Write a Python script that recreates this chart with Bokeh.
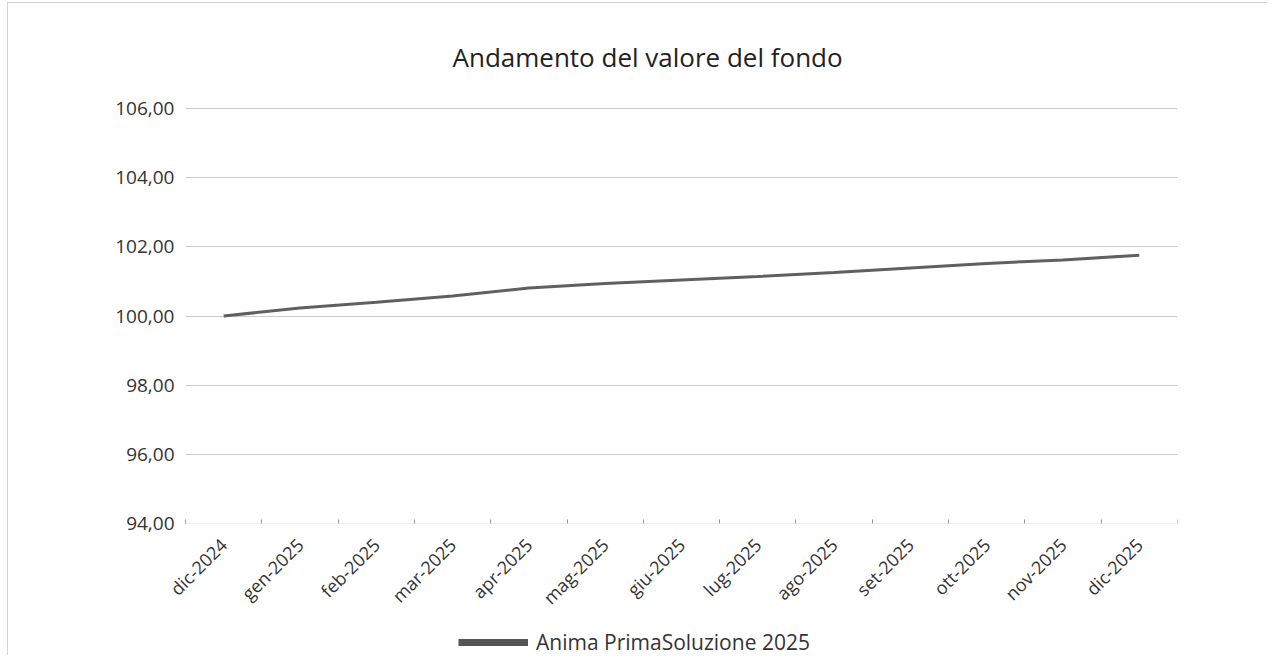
from bokeh.plotting import figure
from bokeh.models import FixedTicker, Legend, LegendItem, ColumnDataSource, Title, Range1d
from bokeh.embed import file_html
from bokeh.resources import INLINE
import math

categories = ["dic-2024", "gen-2025", "feb-2025", "mar-2025", "apr-2025", "mag-2025",
              "giu-2025", "lug-2025", "ago-2025", "set-2025", "ott-2025", "nov-2025", "dic-2025"]
values = [100.00, 100.23, 100.40, 100.58, 100.81, 100.94, 101.04, 101.14, 101.26,
          101.39, 101.52, 101.62, 101.76]
y_ticks = [94, 96, 98, 100, 102, 104, 106]
y_tick_labels = ["94,00", "96,00", "98,00", "100,00", "102,00", "104,00", "106,00"]
series_name = "Anima PrimaSoluzione 2025"
title_text = "Andamento del valore del fondo"

FONT = "Open Sans"

N = len(categories)
Y_MIN, Y_MAX = 94, 106
PLOT_W = 992      # px width of the plotting area (categories)
PLOT_H = 415      # px height between 106 and 94
EXTRA_L = 85      # frame extends left of the plotting area (room for y labels)
EXTRA_T = 20      # frame extends above the plotting area (room for top label)
EXTRA_B = 132     # frame extends below the plotting area (x labels + legend)
FRAME_W = PLOT_W + EXTRA_L
FRAME_H = PLOT_H + EXTRA_T + EXTRA_B

px_y = (Y_MAX - Y_MIN) / PLOT_H
x_lo = -EXTRA_L * N / PLOT_W
y_lo = Y_MIN - EXTRA_B * px_y
y_hi = Y_MAX + EXTRA_T * px_y

x_pos = [i + 0.5 for i in range(N)]
src = ColumnDataSource(dict(x=x_pos, y=values))

p = figure(output_backend="svg", toolbar_location=None,
           x_range=(x_lo, N), y_range=(y_lo, y_hi),
           min_border_left=92, min_border_top=85, min_border_right=90, min_border_bottom=0,
           frame_width=FRAME_W, frame_height=FRAME_H,
           styles={"border-left": "1px solid #d4d4d4", "border-top": "1px solid #d4d4d4",
                   "margin-left": "7px", "margin-top": "2px"})
p.outline_line_color = None
p.background_fill_color = "white"
p.border_fill_color = "white"
p.extra_y_ranges = {"legend_only": Range1d(start=1000, end=1001)}

t = Title(text=title_text, align="left", offset=352, text_font=FONT, text_font_size="26px",
          text_font_style="normal", text_color="#222222", standoff=28)
p.add_layout(t, "above")

r = p.line("x", "y", source=src, line_color="#606060", line_width=3)
# same series, mapped off-screen; only used to draw the thick legend swatch
swatch = p.line("x", "y", source=src, y_range_name="legend_only", line_color="#555555", line_width=7)

# y axis, drawn at the left edge of the plotting area
p.yaxis.fixed_location = 0
p.yaxis.ticker = FixedTicker(ticks=y_ticks)
p.yaxis.major_label_overrides = {t_: l for t_, l in zip(y_ticks, y_tick_labels)}
p.yaxis.axis_line_color = None
p.yaxis.major_tick_line_color = None
p.yaxis.minor_tick_line_color = None
p.yaxis.major_label_text_font = FONT
p.yaxis.major_label_text_font_size = "19px"
p.yaxis.major_label_text_color = "#333333"
p.yaxis.major_label_standoff = 5

# x axis, drawn at the bottom of the plotting area
p.xaxis.fixed_location = Y_MIN
p.xaxis.bounds = (0, N)
p.xaxis.ticker = FixedTicker(ticks=x_pos, minor_ticks=list(range(N + 1)))
p.xaxis.major_label_overrides = {x: c for x, c in zip(x_pos, categories)}
p.xaxis.major_label_orientation = math.pi / 4
p.xaxis.axis_line_color = "#eeeeee"
p.xaxis.major_tick_line_color = None
p.xaxis.minor_tick_line_color = "#999999"
p.xaxis.minor_tick_in = 4
p.xaxis.minor_tick_out = 0
p.xaxis.major_label_text_font = FONT
p.xaxis.major_label_text_font_size = "18px"
p.xaxis.major_label_text_color = "#333333"
p.xaxis.major_label_standoff = 12

p.xgrid.grid_line_color = None
p.ygrid.ticker = FixedTicker(ticks=y_ticks)
p.ygrid.grid_line_color = "#cccccc"
p.ygrid.grid_line_width = 1
try:
    p.ygrid.cross_bounds = (0, N)
except Exception:
    pass

legend = Legend(items=[LegendItem(label=series_name, renderers=[swatch])],
                location=(EXTRA_L + 273, -1), orientation="horizontal",
                glyph_width=70, glyph_height=20, label_standoff=8, padding=0, margin=0,
                label_text_font=FONT, label_text_font_size="21px", label_text_color="#333333",
                border_line_color=None, background_fill_alpha=0)
p.add_layout(legend, "center")

open("out.html", "w").write(file_html(p, INLINE))
